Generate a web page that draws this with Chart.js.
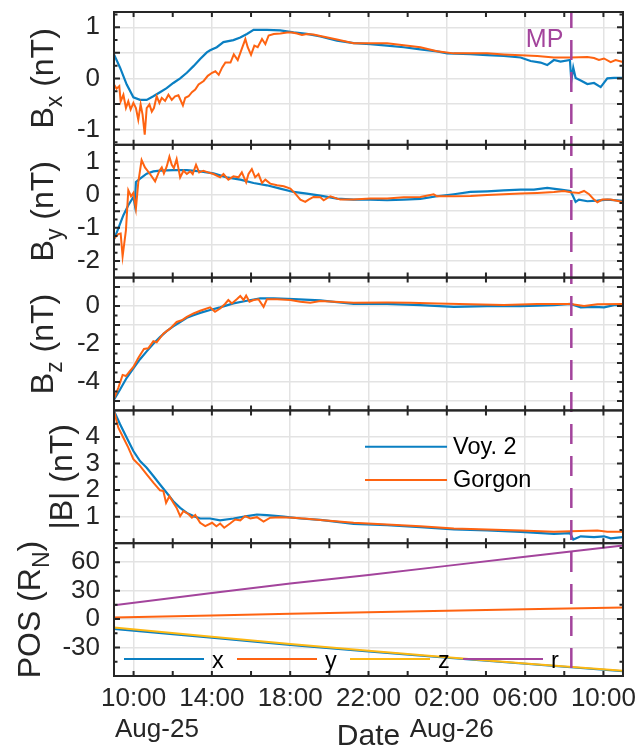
<!DOCTYPE html>
<html>
<head>
<meta charset="utf-8">
<script src="https://cdn.jsdelivr.net/npm/chart.js@4.4.1/dist/chart.umd.min.js"></script>
<style>
  html, body { margin: 0; padding: 0; background: #fff; }
  #wrap { width: 638px; height: 750px; position: relative; }
</style>
</head>
<body>
<div id="wrap"><canvas id="c" width="638" height="750"></canvas></div>
<script>
// Time axis: hours since Aug-25 00:00
const tStart = 9, tEnd = 35;
const xTickHours = [10, 14, 18, 22, 26, 30, 34];
const xTickLabels = ['10:00', '14:00', '18:00', '22:00', '02:00', '06:00', '10:00'];
const xMinorHours = [12, 16, 20, 24, 28, 32];
const dayLabels = ['Aug-25', 'Aug-26'];
const mpTime = 32.36;

// [hour, value] samples
const voyBx = [[9.00,0.47],[9.31,0.21],[9.65,-0.12],[9.99,-0.37],[10.33,-0.42],[10.67,-0.42],[11.01,-0.35],[11.35,-0.27],[11.69,-0.19],[12.03,-0.09],[12.38,0.00],[12.72,0.11],[13.06,0.24],[13.40,0.38],[13.74,0.51],[13.91,0.55],[14.25,0.61],[14.59,0.71],[15.10,0.75],[15.45,0.80],[15.79,0.87],[16.13,0.95],[16.81,0.95],[17.49,0.94],[18.17,0.90],[18.85,0.87],[19.54,0.82],[20.39,0.74],[21.24,0.69],[22.09,0.67],[22.95,0.64],[23.80,0.61],[24.65,0.57],[25.50,0.53],[26.02,0.49],[27.21,0.475],[28.06,0.455],[28.91,0.44],[29.77,0.41],[30.28,0.34],[30.79,0.31],[31.13,0.26],[31.47,0.36],[31.81,0.33],[32.29,0.36],[32.36,-0.05],[32.46,0.21],[32.58,0.01],[32.84,-0.04],[33.18,-0.11],[33.52,-0.09],[33.86,-0.17],[34.20,0.00],[34.54,0.01],[35.00,0.01]];
const gorBx = [[9.00,-0.12],[9.13,-0.20],[9.27,-0.15],[9.34,-0.45],[9.48,-0.32],[9.61,-0.58],[9.73,-0.45],[9.85,-0.61],[9.99,-0.48],[10.12,-0.58],[10.24,-0.81],[10.36,-0.51],[10.46,-0.71],[10.57,-1.10],[10.67,-0.58],[10.81,-0.51],[10.93,-0.65],[11.04,-0.58],[11.18,-0.35],[11.32,-0.48],[11.44,-0.38],[11.61,-0.44],[11.78,-0.32],[11.95,-0.42],[12.12,-0.35],[12.29,-0.33],[12.52,-0.53],[12.64,-0.38],[12.81,-0.35],[12.98,-0.27],[13.15,-0.22],[13.32,-0.12],[13.58,-0.05],[13.79,0.05],[14.01,0.11],[14.18,0.14],[14.35,0.07],[14.52,0.21],[14.69,0.31],[14.95,0.31],[15.12,0.47],[15.32,0.36],[15.49,0.54],[15.71,0.77],[15.83,0.61],[16.00,0.46],[16.17,0.64],[16.34,0.61],[16.56,0.77],[16.73,0.67],[16.90,0.84],[17.16,0.87],[17.50,0.88],[17.84,0.90],[18.09,0.90],[18.35,0.88],[18.60,0.85],[18.85,0.87],[19.19,0.86],[19.54,0.83],[20.39,0.76],[21.24,0.69],[22.09,0.69],[22.95,0.69],[23.80,0.65],[24.65,0.61],[25.50,0.53],[26.36,0.49],[27.21,0.49],[28.06,0.49],[28.91,0.47],[29.77,0.455],[30.62,0.44],[31.47,0.41],[32.32,0.41],[33.18,0.42],[33.52,0.40],[33.77,0.36],[34.03,0.39],[34.37,0.32],[34.62,0.36],[35.00,0.32]];

const voyBy = [[9.00,-1.35],[9.22,-1.02],[9.48,-0.62],[9.73,-0.32],[9.99,-0.07],[10.06,-0.30],[10.12,0.38],[10.33,0.48],[10.67,0.63],[11.01,0.70],[11.35,0.72],[12.03,0.74],[12.72,0.74],[13.40,0.70],[14.08,0.64],[14.76,0.52],[15.45,0.45],[16.13,0.35],[16.81,0.28],[17.49,0.18],[18.17,0.08],[18.85,0.03],[19.54,-0.03],[20.39,-0.12],[21.24,-0.15],[22.09,-0.15],[22.95,-0.17],[23.80,-0.15],[24.65,-0.13],[25.50,-0.05],[26.36,0.01],[27.21,0.08],[28.06,0.10],[28.91,0.13],[29.77,0.15],[30.45,0.15],[31.13,0.20],[31.81,0.15],[32.32,0.11],[32.45,-0.05],[32.58,-0.22],[32.75,-0.15],[33.18,-0.20],[33.69,-0.18],[34.20,-0.15],[35.00,-0.19]];
const gorBy = [[9.00,-1.32],[9.22,-1.19],[9.34,-1.17],[9.44,-1.86],[9.61,-1.07],[9.73,0.13],[9.87,-0.05],[9.99,0.05],[10.12,-0.42],[10.24,0.37],[10.41,1.04],[10.58,0.82],[10.84,0.62],[11.10,0.40],[11.32,0.72],[11.44,0.82],[11.55,0.64],[11.69,0.84],[11.83,1.14],[11.95,0.90],[12.06,0.80],[12.20,1.07],[12.38,0.52],[12.55,0.72],[12.72,0.62],[12.89,0.70],[13.02,0.62],[13.19,0.90],[13.35,0.67],[13.56,0.72],[13.81,0.67],[14.08,0.62],[14.42,0.52],[14.59,0.62],[14.84,0.45],[15.10,0.55],[15.36,0.52],[15.53,0.67],[15.75,0.37],[15.87,0.62],[16.04,0.77],[16.21,0.52],[16.38,0.62],[16.56,0.35],[16.73,0.45],[16.98,0.33],[17.33,0.28],[17.67,0.25],[18.01,0.18],[18.26,0.03],[18.52,-0.15],[18.77,-0.22],[18.94,-0.15],[19.19,-0.07],[19.54,-0.08],[19.71,-0.17],[20.05,-0.05],[20.56,-0.15],[21.24,-0.15],[22.09,-0.12],[22.95,-0.12],[23.80,-0.08],[24.65,-0.07],[25.33,0.01],[25.50,-0.05],[26.36,-0.05],[27.21,-0.04],[28.06,-0.01],[28.91,0.01],[29.77,0.03],[30.62,0.05],[31.47,0.08],[31.98,0.11],[32.32,0.07],[32.75,0.05],[33.01,0.11],[33.27,0.01],[33.52,-0.15],[33.69,-0.23],[33.94,-0.15],[34.37,-0.15],[35.00,-0.22]];

const voyBz = [[9.00,-4.93],[9.31,-4.40],[9.65,-3.78],[9.99,-3.28],[10.33,-2.80],[10.67,-2.39],[11.01,-1.99],[11.35,-1.64],[11.69,-1.32],[12.03,-1.07],[12.38,-0.84],[12.72,-0.62],[13.06,-0.48],[13.40,-0.36],[13.91,-0.21],[14.42,-0.07],[15.10,0.14],[15.79,0.28],[16.47,0.41],[17.16,0.41],[18.17,0.37],[19.54,0.30],[21.24,0.11],[22.95,0.11],[24.65,0.05],[26.36,-0.04],[28.06,0.00],[29.77,0.00],[31.47,0.05],[32.32,0.11],[32.84,-0.07],[33.52,-0.04],[34.03,-0.07],[34.54,0.05],[35.00,0.05]];
const gorBz = [[9.00,-4.88],[9.22,-4.31],[9.44,-3.63],[9.61,-3.69],[9.82,-3.42],[9.99,-3.21],[10.24,-2.74],[10.53,-2.26],[10.75,-2.23],[11.01,-1.85],[11.18,-1.91],[11.52,-1.46],[11.86,-1.19],[12.20,-0.84],[12.46,-0.75],[12.72,-0.57],[13.06,-0.39],[13.40,-0.25],[13.91,-0.07],[14.16,-0.30],[14.42,-0.13],[14.67,0.11],[14.84,0.32],[15.02,0.14],[15.27,0.36],[15.45,0.53],[15.62,0.32],[15.75,0.55],[15.92,0.23],[16.13,0.32],[16.38,0.36],[16.64,-0.04],[16.81,0.36],[17.33,0.36],[18.01,0.32],[18.52,0.23],[19.03,0.17],[19.54,0.26],[21.24,0.18],[22.95,0.19],[24.14,0.18],[25.50,0.14],[27.21,0.09],[28.91,0.05],[30.62,0.11],[32.32,0.11],[33.01,0.00],[33.69,0.09],[35.00,0.11]];

const voyB = [[9.00,4.98],[9.31,4.48],[9.65,3.97],[9.99,3.47],[10.33,3.09],[10.67,2.84],[11.01,2.53],[11.35,2.21],[11.69,1.90],[12.03,1.58],[12.38,1.33],[12.72,1.14],[13.06,1.02],[13.40,0.93],[13.91,0.93],[14.42,0.86],[15.10,0.93],[15.79,1.02],[16.30,1.08],[16.81,1.06],[17.67,1.00],[18.52,0.93],[19.54,0.88],[21.24,0.73],[22.95,0.68],[24.65,0.60],[26.36,0.52],[28.06,0.48],[29.77,0.43],[31.47,0.35],[32.29,0.38],[32.46,0.14],[32.84,0.26],[33.52,0.23],[34.03,0.26],[34.37,0.18],[35.00,0.23]];
const gorB = [[9.00,4.98],[9.22,4.35],[9.48,3.97],[9.73,3.60],[9.99,3.16],[10.33,2.91],[10.67,2.59],[11.01,2.28],[11.35,1.99],[11.52,1.96],[11.66,1.52],[11.83,1.77],[12.03,1.52],[12.20,1.33],[12.38,1.02],[12.55,1.21],[12.81,1.09],[12.98,0.96],[13.15,1.06],[13.40,0.77],[13.66,0.64],[14.01,0.77],[14.23,0.64],[14.42,0.74],[14.63,0.58],[14.93,0.74],[15.19,0.89],[15.45,0.86],[15.70,1.02],[15.96,0.93],[16.30,0.98],[16.64,0.81],[16.98,0.96],[17.50,0.98],[18.17,0.96],[18.85,0.92],[19.54,0.87],[21.24,0.77],[22.95,0.70],[24.65,0.64],[26.36,0.55],[28.06,0.52],[29.77,0.48],[31.47,0.43],[32.32,0.45],[33.69,0.48],[34.20,0.43],[35.00,0.43]];

const posX = [[9,-10.4],[14,-19.8],[18,-27.2],[22,-34.2],[26,-40.8],[30,-47.2],[35,-55.0]];
const posY = [[9,1.6],[14,3.9],[18,5.6],[22,7.2],[26,8.8],[30,10.4],[35,12.3]];
const posZ = [[9,-8.8],[14,-18.6],[18,-26.3],[22,-33.5],[26,-40.2],[30,-46.7],[35,-54.6]];
const posR = [[9,14.6],[14,27.4],[18,37.5],[22,46.6],[26,56.1],[30,65.6],[34,75.2],[35,77.5]];

// Panel axes: range, grid/tick values, labelled ticks, minor ticks
const bxGrid = [-1, -0.5, 0, 0.5, 1], bxLabels = [-1, 0, 1], bxMinor = [-1.25, -0.75, -0.25, 0.25, 0.75, 1.25];
const byGrid = [-2, -1.5, -1, -0.5, 0, 0.5, 1], byLabels = [-2, -1, 0, 1], byMinor = [-2.25, -1.75, -1.25, -0.75, -0.25, 0.25, 0.75, 1.25];
const bzGrid = [-5, -4, -3, -2, -1, 0, 1], bzLabels = [-4, -2, 0], bzMinor = [-4.5, -3.5, -2.5, -1.5, -0.5, 0.5];
const bmGrid = [1, 2, 3, 4], bmLabels = [1, 2, 3, 4], bmMinor = [0.5, 1.5, 2.5, 3.5, 4.5];
const posGrid = [-30, 0, 30, 60], posLabels = [-30, 0, 30, 60], posMinor = [-45, -15, 15, 45, 75];

const FONT = '"Liberation Sans", Arial, Helvetica, sans-serif';
const INK = '#262626';
const GRIDC = '#e3e3e3';
const BLUE = '#0a7fc2', ORANGE = '#fe6311', YELLOW = '#fdb813', PURPLE = '#a3449c';

const panels = [
  { id: 'yBx',  min: -1.3, max: 1.3, grid: bxGrid, labels: bxLabels, minor: bxMinor, title: [['B'], ['x', 1], [' (nT)']], base: 53 },
  { id: 'yBy',  min: -2.5, max: 1.5, grid: byGrid, labels: byLabels, minor: byMinor, title: [['B'], ['y', 1], [' (nT)']], base: 53 },
  { id: 'yBz',  min: -5.5, max: 1.5, grid: bzGrid, labels: bzLabels, minor: bzMinor, title: [['B'], ['z', 1], [' (nT)']], base: 53 },
  { id: 'yMag', min: 0,    max: 5,   grid: bmGrid, labels: bmLabels, minor: bmMinor, title: [['|B| (nT)']], base: 72 },
  { id: 'yPos', min: -60,  max: 80,  grid: posGrid, labels: posLabels, minor: posMinor, title: [['POS (R'], ['N', 1], [')']], base: 40 }
];

function yAxis(p, weight) {
  return {
    type: 'linear', position: 'left', stack: 'panels', stackWeight: 1, weight: weight,
    min: p.min, max: p.max,
    afterFit: s => { s.width = 114; s.paddingTop = 0; s.paddingBottom = 0; },
    afterBuildTicks: s => { s.ticks = p.grid.map(v => ({ value: v })); },
    grid: { color: GRIDC, lineWidth: 1.5, drawTicks: false },
    border: { display: false },
    ticks: {
      autoSkip: false, padding: 14, color: INK,
      font: { family: FONT, size: 26 },
      callback: v => p.labels.includes(v) ? String(v) : ''
    }
  };
}

function series(label, color, axis, pts, order, width) {
  return {
    label: label, yAxisID: axis, xAxisID: 'x',
    data: pts.map(p => ({ x: p[0], y: p[1] })),
    borderColor: color, backgroundColor: color,
    borderWidth: width || 2, pointRadius: 0, tension: 0, fill: false, order: order
  };
}

const datasets = [
  series('Voy. 2', BLUE, 'yBx', voyBx, 2, 2.2),
  series('Gorgon', ORANGE, 'yBx', gorBx, 1),
  series('Voy. 2', BLUE, 'yBy', voyBy, 2, 2.2),
  series('Gorgon', ORANGE, 'yBy', gorBy, 1),
  series('Voy. 2', BLUE, 'yBz', voyBz, 2, 2.2),
  series('Gorgon', ORANGE, 'yBz', gorBz, 1),
  series('Voy. 2', BLUE, 'yMag', voyB, 2, 2.2),
  series('Gorgon', ORANGE, 'yMag', gorB, 1),
  series('x', BLUE, 'yPos', posX, 4),
  series('y', ORANGE, 'yPos', posY, 3),
  series('z', YELLOW, 'yPos', posZ, 2),
  series('r', PURPLE, 'yPos', posR, 1)
];

function drawRotatedTitle(ctx, parts, baseX, centerY) {
  const main = '32px ' + FONT, sub = '23px ' + FONT;
  let total = 0;
  const widths = parts.map(p => { ctx.font = p[1] ? sub : main; const w = ctx.measureText(p[0]).width; total += w; return w; });
  ctx.save();
  ctx.translate(baseX, centerY);
  ctx.rotate(-Math.PI / 2);
  ctx.fillStyle = INK;
  ctx.textBaseline = 'alphabetic';
  ctx.textAlign = 'left';
  let x = -total / 2;
  parts.forEach((p, i) => {
    ctx.font = p[1] ? sub : main;
    ctx.fillText(p[0], x, p[1] ? 9 : 0);
    x += widths[i];
  });
  ctx.restore();
}

const decorations = {
  id: 'decorations',
  afterDatasetsDraw(chart) {
    const ctx = chart.ctx;
    const xs = chart.scales.x;
    const area = chart.chartArea;
    const left = area.left, right = area.right;

    // magnetopause crossing
    const mx = xs.getPixelForValue(mpTime);
    ctx.save();
    ctx.strokeStyle = PURPLE;
    ctx.lineWidth = 2.5;
    ctx.setLineDash([20, 12]);
    ctx.lineDashOffset = 4;
    ctx.beginPath();
    ctx.moveTo(mx, area.top);
    ctx.lineTo(mx, area.bottom);
    ctx.stroke();
    ctx.setLineDash([]);
    ctx.fillStyle = PURPLE;
    ctx.font = '25px ' + FONT;
    ctx.textAlign = 'right';
    ctx.textBaseline = 'alphabetic';
    ctx.fillText('MP', mx - 8, 46.5);
    ctx.restore();

    // panel boxes with inward ticks
    ctx.save();
    ctx.strokeStyle = INK;
    ctx.lineWidth = 2;
    const xAll = xTickHours.concat(xMinorHours);
    panels.forEach(p => {
      const s = chart.scales[p.id];
      const top = s.top, bottom = s.bottom;
      ctx.beginPath();
      p.grid.forEach(v => {
        const y = s.getPixelForValue(v);
        ctx.moveTo(left, y); ctx.lineTo(left + 6, y);
        ctx.moveTo(right, y); ctx.lineTo(right - 6, y);
      });
      p.minor.forEach(v => {
        const y = s.getPixelForValue(v);
        ctx.moveTo(left, y); ctx.lineTo(left + 3.5, y);
        ctx.moveTo(right, y); ctx.lineTo(right - 3.5, y);
      });
      xAll.forEach(h => {
        const x = xs.getPixelForValue(h);
        ctx.moveTo(x, top); ctx.lineTo(x, top + 5);
        ctx.moveTo(x, bottom); ctx.lineTo(x, bottom - 5);
      });
      ctx.stroke();
      ctx.strokeRect(left, top, right - left, bottom - top);
      drawRotatedTitle(ctx, p.title, p.base, (top + bottom) / 2);
    });
    ctx.restore();

    // legends
    ctx.save();
    ctx.font = '23.5px ' + FONT;
    ctx.textAlign = 'left';
    ctx.fillStyle = '#000';
    ctx.lineWidth = 2;
    const magSets = chart.data.datasets.filter(d => d.yAxisID === 'yMag');
    magSets.forEach((d, i) => {
      const y = 446.7 + i * 33.3;
      ctx.strokeStyle = d.borderColor;
      ctx.beginPath(); ctx.moveTo(365, y); ctx.lineTo(447, y); ctx.stroke();
      ctx.textBaseline = 'middle';
      ctx.fillText(d.label, 453, y + 1);
    });
    const posSets = chart.data.datasets.filter(d => d.yAxisID === 'yPos');
    posSets.forEach((d, i) => {
      const x0 = 124 + i * 113;
      ctx.strokeStyle = d.borderColor;
      ctx.beginPath(); ctx.moveTo(x0, 659); ctx.lineTo(x0 + 80, 659); ctx.stroke();
      ctx.textBaseline = 'alphabetic';
      ctx.fillText(d.label, x0 + 88, 668);
    });
    ctx.restore();

    // date labels and axis title
    ctx.save();
    ctx.fillStyle = INK;
    ctx.textBaseline = 'alphabetic';
    ctx.font = '26px ' + FONT;
    ctx.textAlign = 'left';
    ctx.fillText(dayLabels[0], xs.getPixelForValue(tStart) + 1, 737);
    ctx.textAlign = 'center';
    ctx.fillText(dayLabels[1], xs.getPixelForValue(26.25), 737);
    ctx.font = '30px ' + FONT;
    ctx.fillText('Date', (left + right) / 2, 745);
    ctx.restore();
  }
};

const scales = {
  x: {
    type: 'linear', position: 'bottom', min: tStart, max: tEnd,
    afterFit: s => { s.height = 74; s.paddingLeft = 0; s.paddingRight = 0; },
    afterBuildTicks: s => { s.ticks = xTickHours.map(v => ({ value: v })); },
    grid: { color: GRIDC, lineWidth: 1.5, drawTicks: false },
    border: { display: false },
    ticks: {
      autoSkip: false, maxRotation: 0, minRotation: 0, padding: 7, color: INK,
      font: { family: FONT, size: 26 },
      callback: v => { const i = xTickHours.indexOf(v); return i >= 0 ? xTickLabels[i] : ''; }
    }
  },
  yPos: yAxis(panels[4], 1),
  yMag: yAxis(panels[3], 2),
  yBz: yAxis(panels[2], 3),
  yBy: yAxis(panels[1], 4),
  yBx: yAxis(panels[0], 5)
};

new Chart(document.getElementById('c'), {
  type: 'line',
  data: { datasets: datasets },
  options: {
    responsive: false,
    animation: false,
    devicePixelRatio: 1,
    layout: { padding: { left: 0, right: 15, top: 12, bottom: 0 } },
    plugins: { legend: { display: false }, tooltip: { enabled: false } },
    scales: scales
  },
  plugins: [decorations]
});
</script>
</body>
</html>
